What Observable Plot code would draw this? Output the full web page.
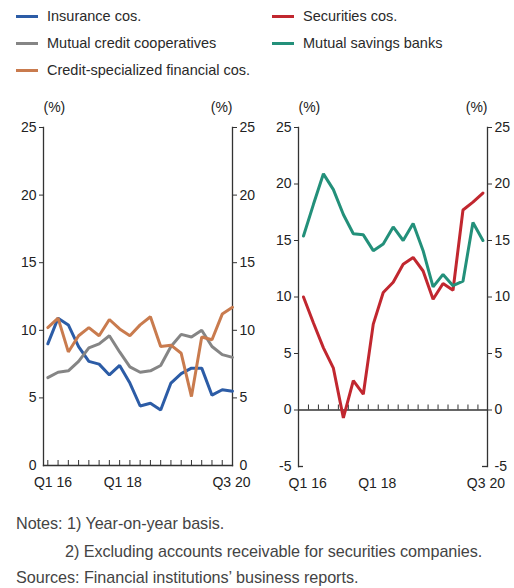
<!DOCTYPE html>
<html><head><meta charset="utf-8">
<script src="https://cdn.jsdelivr.net/npm/d3@7"></script>
<script src="https://cdn.jsdelivr.net/npm/@observablehq/plot@0.6"></script>
<style>
body{margin:0;background:#fff;font-family:"Liberation Sans",Arial,sans-serif;width:514px;height:588px;position:relative;overflow:hidden;}
.leg{position:absolute;display:flex;align-items:center;font-size:14.5px;color:#2a2a2a;white-space:nowrap;}
.sw{width:22px;height:3px;margin-right:9px;}
#charts{position:absolute;left:0;top:85px;display:flex;}
.note{position:absolute;font-size:16.2px;color:#444;white-space:nowrap;letter-spacing:-0.05px;}
</style></head><body>
<div id="legend"></div>
<div id="charts"></div>
<div id="notes"></div>
<script>
// quarters Q1 2016 .. Q3 2020
const quarters = ["Q1 16","Q2 16","Q3 16","Q4 16","Q1 17","Q2 17","Q3 17","Q4 17","Q1 18","Q2 18","Q3 18","Q4 18","Q1 19","Q2 19","Q3 19","Q4 19","Q1 20","Q2 20","Q3 20"];
const insurance   = [9.0,10.9,10.4,8.8,7.7,7.5,6.7,7.4,6.1,4.4,4.6,4.1,6.1,6.8,7.2,7.2,5.2,5.6,5.5];
const mutualCredit= [6.5,6.9,7.0,7.7,8.7,9.0,9.6,8.4,7.3,6.9,7.0,7.4,8.8,9.7,9.5,10.0,8.8,8.2,8.0];
const creditSpec  = [10.2,10.9,8.4,9.6,10.2,9.6,10.8,10.1,9.6,10.4,11.0,8.8,8.9,8.3,5.1,9.5,9.3,11.2,11.7];
const securities  = [10.0,7.7,5.5,3.7,-0.7,2.6,1.4,7.6,10.4,11.3,12.9,13.5,12.3,9.8,11.2,10.6,17.7,18.4,19.2];
const savingsBanks= [15.4,18.2,20.9,19.5,17.3,15.6,15.5,14.1,14.7,16.2,15.0,16.5,14.1,10.9,12.0,11.0,11.4,16.6,15.0];

const seriesNames = ["Insurance cos.","Mutual credit cooperatives","Credit-specialized financial cos.","Securities cos.","Mutual savings banks"];
const seriesColors = ["#2c5ca6","#858585","#c97b4e","#c1272f","#23907a"];

const xTickLabels = ["Q1 16","Q1 18","Q3 20"];
const leftLabelPos = [0.5, 7.3, 17.9];
const rightLabelPos = [0.42, 7.4, 18.3];
const leftYTicks = [5,10,15,20,25];
const rightYTicks = [0,5,10,15,20,25];
const leftXDomain = [-0.42, 18];
const rightXDomain = [-0.5, 18.46];

const rows = (vals, name) => vals.map((v, i) => ({i, q: quarters[i], v, s: name}));
const leftData = [...rows(insurance, seriesNames[0]), ...rows(mutualCredit, seriesNames[1]), ...rows(creditSpec, seriesNames[2])];
const rightData = [...rows(securities, seriesNames[3]), ...rows(savingsBanks, seriesNames[4])];
const color = {domain: seriesNames, range: seriesColors};

// legend
const legendItems = [
  [0, 16, 16],[1, 16, 43],[2, 16, 70],[3, 272, 16],[4, 272, 43]
];
const leg = document.getElementById("legend");
legendItems.forEach(([k, x, y]) => {
  const d = document.createElement("div");
  d.className = "leg";
  d.style.left = x + "px"; d.style.top = (y - 9) + "px"; d.style.height = "18px";
  d.innerHTML = `<div class="sw" style="background:${seriesColors[k]}"></div><span>${seriesNames[k]}</span>`;
  leg.appendChild(d);
});

const axisStyle = {fontSize: "14px", fontFamily: "'Liberation Sans', Arial, sans-serif", color: "#222", background: "white", overflow: "visible"};
const ax = "#333";
const fmt = d => String(d);

const left = Plot.plot({
  width: 257, height: 415,
  marginLeft: 43, marginRight: 25, marginTop: 42, marginBottom: 35,
  style: axisStyle,
  x: {domain: leftXDomain, axis: null},
  y: {domain: [0, 25], axis: null},
  color,
  marks: [
    Plot.axisY(leftYTicks, {anchor: "left", tickSize: 4, tickPadding: 3, label: null, stroke: ax, tickFormat: fmt}),
    Plot.axisY(leftYTicks, {anchor: "right", tickSize: 4, tickPadding: 3, label: null, stroke: ax, tickFormat: fmt}),
    Plot.axisY([0], {anchor: "left", tickSize: 0, tickPadding: 7, label: null, tickFormat: fmt}),
    Plot.axisY([0], {anchor: "right", tickSize: 0, tickPadding: 7, label: null, tickFormat: fmt}),
    Plot.frame({anchor: "left", stroke: ax, strokeWidth: 1.3}),
    Plot.frame({anchor: "right", stroke: ax, strokeWidth: 1.3}),
    Plot.frame({anchor: "bottom", stroke: ax, strokeWidth: 1.3}),
    Plot.ruleX(d3.range(quarters.length - 1), {x: d => d, y1: 0, y2: 0, insetTop: -5, stroke: ax, strokeWidth: 1}),
    Plot.line(leftData, {x: "i", y: "v", z: "s", stroke: "s", strokeWidth: 3, strokeLinejoin: "miter"}),
    Plot.text(xTickLabels, {x: (d, k) => leftLabelPos[k], text: d => d, frameAnchor: "bottom", dy: 21, fill: "#222"}),
    Plot.text(["(%)"], {text: d => d, frameAnchor: "top-left", textAnchor: "start", dy: -25, fill: "#222"}),
    Plot.text(["(%)"], {text: d => d, frameAnchor: "top-right", textAnchor: "end", dy: -25, fill: "#222"})
  ]
});

const right = Plot.plot({
  width: 257, height: 415,
  marginLeft: 41, marginRight: 27, marginTop: 42, marginBottom: 34,
  style: axisStyle,
  x: {domain: rightXDomain, axis: null},
  y: {domain: [-5, 25], axis: null},
  color,
  marks: [
    Plot.axisY(rightYTicks, {anchor: "left", tickSize: 4, tickPadding: 3, label: null, stroke: ax, tickFormat: fmt}),
    Plot.axisY(rightYTicks, {anchor: "right", tickSize: 4, tickPadding: 3, label: null, stroke: ax, tickFormat: fmt}),
    Plot.axisY([-5], {anchor: "left", tickSize: 0, tickPadding: 7, label: null, tickFormat: fmt}),
    Plot.axisY([-5], {anchor: "right", tickSize: 0, tickPadding: 7, label: null, tickFormat: fmt}),
    Plot.frame({anchor: "left", stroke: ax, strokeWidth: 1.3}),
    Plot.frame({anchor: "right", stroke: ax, strokeWidth: 1.3}),
    Plot.ruleY([-5], {y: d => d, x1: rightXDomain[0], x2: rightXDomain[0], insetRight: -5, stroke: ax, strokeWidth: 1.3}),
    Plot.ruleY([-5], {y: d => d, x1: rightXDomain[1], x2: rightXDomain[1], insetLeft: -5, stroke: ax, strokeWidth: 1.3}),
    Plot.ruleY([0], {stroke: ax, strokeWidth: 1.3}),
    Plot.ruleX(d3.range(quarters.length - 1), {x: d => d + 0.5, y1: 0, y2: 0, insetTop: -5, stroke: ax, strokeWidth: 1}),
    Plot.line(rightData, {x: "i", y: "v", z: "s", stroke: "s", strokeWidth: 3, strokeLinejoin: "miter"}),
    Plot.text(xTickLabels, {x: (d, k) => rightLabelPos[k], text: d => d, frameAnchor: "bottom", dy: 21, fill: "#222"}),
    Plot.text(["(%)"], {text: d => d, frameAnchor: "top-left", textAnchor: "start", dy: -25, fill: "#222"}),
    Plot.text(["(%)"], {text: d => d, frameAnchor: "top-right", textAnchor: "end", dy: -25, fill: "#222"})
  ]
});

const charts = document.getElementById("charts");
charts.appendChild(left);
charts.appendChild(right);

const notes = [
  ["Notes: 1) Year-on-year basis.", 16, 524],
  ["2) Excluding accounts receivable for securities companies.", 65, 552],
  ["Sources: Financial institutions\u2019 business reports.", 16, 578]
];
const nd = document.getElementById("notes");
notes.forEach(([t, x, y]) => {
  const d = document.createElement("div");
  d.className = "note";
  d.style.left = x + "px"; d.style.top = (y - 10) + "px";
  d.textContent = t;
  nd.appendChild(d);
});
</script>
</body></html>
